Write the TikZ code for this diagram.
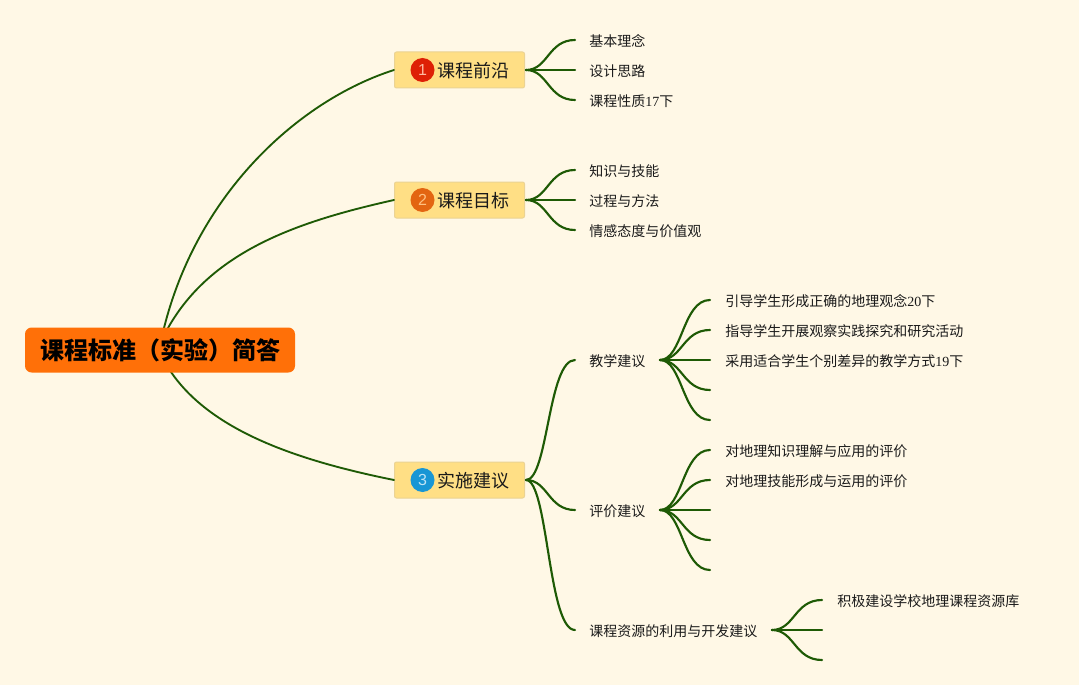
\documentclass[tikz,border=0pt]{standalone}
\usepackage{fontspec}
\usetikzlibrary{calc}
\setmainfont{Liberation Serif}
\newfontfamily\cjk{Noto Sans CJK SC}
\newfontfamily\numf{Liberation Sans}
\definecolor{bgc}{HTML}{FFF8E6}
\definecolor{linkc}{HTML}{1E5A05}
\definecolor{rootc}{HTML}{FF7008}
\definecolor{topicc}{HTML}{FFDF85}
\definecolor{topice}{HTML}{EBD393}
\definecolor{txt}{HTML}{1A1A1A}
\definecolor{bredc}{HTML}{DE2005}
\definecolor{borangec}{HTML}{E36511}
\definecolor{bbluec}{HTML}{1896D5}
\definecolor{numa}{HTML}{FFB9A0}
\definecolor{numb}{HTML}{FFC080}
\definecolor{numc}{HTML}{BFE4F5}
\tikzset{
  x=0.75pt,y=-0.75pt,
  link/.style={draw=linkc,line width=1.6pt,line cap=round},
  mainlink/.style={draw=linkc,line width=1.4pt,line cap=round},
  leaf/.style={anchor=west,inner sep=0pt,font=\cjk\fontsize{10.5pt}{12pt}\selectfont,text=txt},
  topic/.style={draw=topice,fill=topicc,rounded corners=1.5pt,line width=0.75pt,minimum width=97.5pt,minimum height=27pt,inner sep=0pt},
  topiclabel/.style={anchor=west,inner sep=0pt,font=\cjk\fontsize{13.5pt}{15pt}\selectfont,text=txt},
  badge/.style={circle,minimum size=18pt,inner sep=0pt,font=\numf\fontsize{12pt}{14pt}\selectfont},
  root/.style={fill=rootc,rounded corners=5pt,minimum width=202.5pt,minimum height=33.75pt,inner sep=0pt,font=\cjk\bfseries\fontsize{18pt}{20pt}\selectfont,text=black},
}
\newcommand{\branch}[2]{\coordinate (m) at ($(#1)!0.45!(#2)$);\draw[link] (#1) .. controls (m |- #1) and (m |- #2) .. (#2);}
\begin{document}
\begin{tikzpicture}
\useasboundingbox[fill=bgc] (0,0) rectangle (1079,685);
% root and main topics
\coordinate (r1) at (164,328);
\coordinate (r2) at (168,328);
\coordinate (r3) at (171,372);
\node[topic] (t1) at (459.5,70) {};
\node[topic] (t2) at (459.5,200) {};
\node[topic] (t3) at (459.5,480) {};
\draw[mainlink] (r1) .. controls (198,192) and (300,100) .. (t1.west);
\draw[mainlink] (r2) .. controls (212,250) and (300,221) .. (t2.west);
\draw[mainlink] (r3) .. controls (212,432) and (300,461) .. (t3.west);
\node[root] (root) at (160,350) {\hspace*{1.5pt}\raisebox{-1.5pt}{课程标准（实验）简答}};
\node[badge,fill=bredc,text=numa] (b1) at (422.5,70) {1};
\node[badge,fill=borangec,text=numb] (b2) at (422.5,200) {2};
\node[badge,fill=bbluec,text=numc] (b3) at (422.5,480) {3};
\node[topiclabel] (tl1) at (437,71) {课程前沿};
\node[topiclabel] (tl2) at (437,201) {课程目标};
\node[topiclabel] (tl3) at (437,481) {实施建议};
% level two
\coordinate (s1) at (526,70);
\coordinate (s2) at (526,200);
\coordinate (s3) at (526,480);
\node[leaf] (a1) at (589,41) {基本理念};
\node[leaf] (a2) at (589,71) {设计思路};
\node[leaf] (a3) at (589,101) {课程性质{\rmfamily 17}下};
\node[leaf] (b4) at (589,171) {知识与技能};
\node[leaf] (b5) at (589,201) {过程与方法};
\node[leaf] (b6) at (589,231) {情感态度与价值观};
\node[leaf] (c1) at (589,361) {教学建议};
\node[leaf] (c2) at (589,511) {评价建议};
\node[leaf] (c3) at (589,631) {课程资源的利用与开发建议};
\foreach \s/\y in {s1/40,s1/70,s1/100,s2/170,s2/200,s2/230,s3/360,s3/510,s3/630}{
  \coordinate (e) at (575,\y);
  \branch{\s}{e}
}
% level three
\coordinate (p1) at (660,360);
\coordinate (p2) at (660,510);
\coordinate (p3) at (772,630);
\node[leaf] (d1) at (725,301) {引导学生形成正确的地理观念{\rmfamily 20}下};
\node[leaf] (d2) at (725,331) {指导学生开展观察实践探究和研究活动};
\node[leaf] (d3) at (725,361) {采用适合学生个别差异的教学方式{\rmfamily 19}下};
\node[leaf] (f1) at (725,451) {对地理知识理解与应用的评价};
\node[leaf] (f2) at (725,481) {对地理技能形成与运用的评价};
\node[leaf] (g1) at (837,601) {积极建设学校地理课程资源库};
\foreach \y in {300,330,360,390,420}{
  \coordinate (e) at (710,\y);
  \branch{p1}{e}
}
\foreach \y in {450,480,510,540,570}{
  \coordinate (e) at (710,\y);
  \branch{p2}{e}
}
\foreach \y in {600,630,660}{
  \coordinate (e) at (822,\y);
  \branch{p3}{e}
}
\end{tikzpicture}
\end{document}
